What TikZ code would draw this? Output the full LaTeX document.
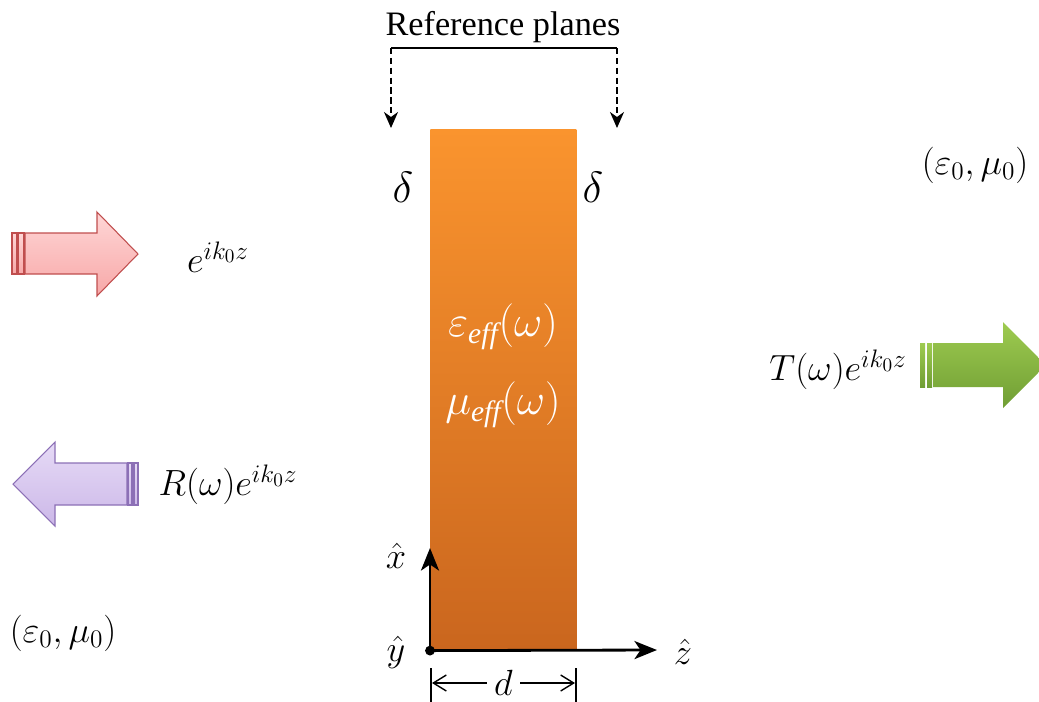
\documentclass[tikz,border=0pt]{standalone}
\usepackage{fontspec}
\setmainfont{Liberation Serif}
\usetikzlibrary{arrows.meta,positioning,calc}
\definecolor{slabtop}{RGB}{250,148,46}
\definecolor{slabbot}{RGB}{202,102,30}
\definecolor{pinktop}{RGB}{255,214,214}
\definecolor{pinkbot}{RGB}{247,168,168}
\definecolor{pinkline}{RGB}{192,78,78}
\definecolor{lilactop}{RGB}{230,218,246}
\definecolor{lilacbot}{RGB}{204,184,232}
\definecolor{lilacline}{RGB}{140,112,182}
\definecolor{greentop}{RGB}{158,203,80}
\definecolor{greenbot}{RGB}{112,158,52}

\begin{document}
\begin{tikzpicture}[
  x=0.02cm, y=-0.02cm,
  lbl/.style={font=\fontsize{21}{25}\selectfont, inner sep=0pt},
  inlbl/.style={font=\fontsize{24}{28}\selectfont, text=white, inner sep=1pt},
  title/.style={font=\fontsize{19.5}{23}\selectfont, inner sep=1pt},
  slabbox/.style={top color=slabtop, bottom color=slabbot, inner sep=0pt,
                  minimum width=2.92cm, minimum height=10.42cm},
  axis/.style={-{Stealth[length=4.5mm, width=3.6mm, inset=1.2mm]}, line width=1.6pt},
  refarr/.style={-{Stealth[length=3.2mm, width=2.8mm, inset=1mm]}, dash pattern=on 3.6pt off 2pt,
                 line width=1pt},
  dimarr/.style={{Straight Barb[length=2.6mm, width=3.2mm]}-{Straight Barb[length=2.6mm, width=3.2mm]},
                 line width=0.8pt},
]
\useasboundingbox (0,0) rectangle (1039,701);
\clip (0,0) rectangle (1039,701);

% ---- the slab ---------------------------------------------------------------
\node[slabbox, anchor=north west] (slab) at (430,129) {};
\node[inlbl] (eps) at (503,327) {$\varepsilon_{\mathit{eff}}\bigl(\omega\bigr)$};
\node[inlbl] (mu) at (503,405) {$\mu_{\mathit{eff}}\bigl(\omega\bigr)$};
\node[lbl, font=\fontsize{24}{28}\selectfont] (dl) at (403,187) {$\delta$};
\node[lbl, font=\fontsize{24}{28}\selectfont] (dr) at (593,187) {$\delta$};

% ---- reference planes -------------------------------------------------------
\node[title] (ref) at (503,27) {Reference planes};
\coordinate (rl) at (391,48);
\coordinate (rr) at (617,48);
\coordinate (rlend) at (391,128);
\coordinate (rrend) at (617,128);
\draw[line width=1.2pt] (rl) -- (rr);
\draw[refarr] (rl) -- (rlend);
\draw[refarr] (rr) -- (rrend);

% ---- incident wave ----------------------------------------------------------
\shade[top color=pinktop, bottom color=pinkbot, draw=pinkline, line width=0.6pt]
  (12,233) rectangle (17,274);
\shade[top color=pinktop, bottom color=pinkbot, draw=pinkline, line width=0.6pt]
  (18,233) rectangle (24,274);
\shade[top color=pinktop, bottom color=pinkbot, draw=pinkline, line width=0.6pt]
  (25,233) -- (97,233) -- (97,212) -- (138,254) -- (97,296) -- (97,274) -- (25,274) -- cycle;
\node[lbl] (inc) at (218,257) {$e^{ik_0z}$};

% ---- reflected wave ---------------------------------------------------------
\shade[top color=lilactop, bottom color=lilacbot, draw=lilacline, line width=0.6pt]
  (127,463) -- (55,463) -- (55,442) -- (13,484) -- (55,526) -- (55,505) -- (127,505) -- cycle;
\shade[top color=lilactop, bottom color=lilacbot, draw=lilacline, line width=0.6pt]
  (128,463) rectangle (132,505);
\shade[top color=lilactop, bottom color=lilacbot, draw=lilacline, line width=0.6pt]
  (134,463) rectangle (138,505);
\node[lbl] (refl) at (228,485) {$R\bigl(\omega\bigr)e^{ik_0z}$};
\node[lbl] (medl) at (63,633) {$\bigl(\varepsilon_0,\mu_0\bigr)$};

% ---- transmitted wave -------------------------------------------------------
\shade[top color=greentop, bottom color=greenbot]
  (920,343) rectangle (925,387);
\shade[top color=greentop, bottom color=greenbot]
  (927,343) rectangle (932,387);
\shade[top color=greentop, bottom color=greenbot]
  (933,343) -- (1003,343) -- (1003,322) -- (1046,365) -- (1003,408) -- (1003,387) -- (933,387) -- cycle;
\node[lbl] (trans) at (838,370) {$T\bigl(\omega\bigr)e^{ik_0z}$};
\node[lbl] (medr) at (975,165) {$\bigl(\varepsilon_0,\mu_0\bigr)$};

% ---- axes and thickness -----------------------------------------------------
\coordinate (xtip) at (430,548);
\coordinate (ztip) at (657,650);
\draw[axis] (slab.south west) -- (xtip);
\draw[axis] (slab.south west) -- (ztip);
\fill (slab.south west) circle (2.8pt);
\node[lbl] (xhat) at (396,556) {$\hat{x}$};
\node[lbl] (yhat) at (396,652) {$\hat{y}$};
\node[lbl] (zhat) at (683,652) {$\hat{z}$};

\coordinate (tl) at (431,668);
\coordinate (tr) at (576,668);
\draw[line width=0.6pt] (tl) -- ++(0,40);
\draw[line width=0.6pt] (tr) -- ++(0,40);
\coordinate (al) at (432,683);
\coordinate (ar) at (575,683);
\draw[dimarr] (al) -- (ar) node[midway, lbl, fill=white, inner xsep=4pt, inner ysep=0pt] (dlbl) {$d$};

\end{tikzpicture}
\end{document}
